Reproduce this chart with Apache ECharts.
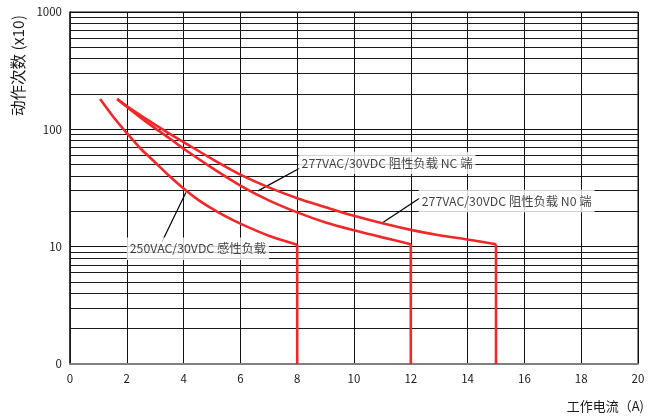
<!DOCTYPE html>
<html>
<head>
<meta charset="utf-8">
<script src="https://cdn.jsdelivr.net/npm/echarts@6/dist/echarts.min.js"></script>
<style>html,body{margin:0;padding:0;background:#fff}#c{width:649px;height:419px}</style>
</head>
<body>
<div id="c"></div>
<script>
// ---- data ----
const xTicks = [0, 2, 4, 6, 8, 10, 12, 14, 16, 18, 20];
const yMajor = [1, 10, 100, 1000];
const yMinor = [2, 3, 4, 5, 6, 7, 8, 9, 20, 30, 40, 50, 60, 70, 80, 90, 200, 300, 400, 500, 600, 700, 800, 900];

const curveInductive = [[1.06, 181], [1.5, 130], [2, 93], [2.5, 68], [3, 52.2], [3.5, 40], [4, 31.3], [4.5, 25.2],
  [5, 21.1], [5.5, 18], [6, 15.7], [7, 12.4], [8, 10.4]];
const dropInductive = [[8, 10.4], [8, 1]];
const curveNC = [[1.66, 181], [2, 155.6], [2.5, 125.2], [3, 101.9], [3.5, 83.9], [4, 68.3], [5, 47], [6, 33.2],
  [7, 24.8], [8, 19.6], [9, 16.1], [10, 13.8], [11, 12], [12, 10.5]];
const dropNC = [[12, 10.5], [12, 1]];
const curveNO = [[1.66, 181], [2, 158], [2.5, 130.7], [3, 109.3], [3.5, 92], [4, 77.9], [5, 55.9], [6, 41.1],
  [7, 32], [8, 25.9], [9, 21.7], [10, 18.3], [11, 15.8], [12, 13.9], [13, 12.5], [14, 11.5], [15, 10.5]];
const dropNO = [[15, 10.5], [15, 1]];

const arrowInductive = [[3.24, 11], [4.08, 29]];
const arrowNC = [[8.1, 46.9], [6.62, 29.9]];
const arrowNO = [[12.32, 26], [10.99, 15.9]];

const labels = [
  [2.0, 9.6, '250VAC/30VDC 感性负载'],
  [8.05, 51.7, '277VAC/30VDC 阻性负载 NC 端'],
  [12.28, 24.5, '277VAC/30VDC 阻性负载 N0 端']
];

const RED = '#f0282a';
const FONT = '"Noto Sans CJK SC","Noto Sans",sans-serif';

function curve(data, smooth) {
  return { type: 'line', data: data, smooth: smooth, showSymbol: false, symbol: 'none', z: 5,
    lineStyle: { color: RED, width: 2.6 }, silent: true };
}
function arrow(pts) {
  return [{ coord: pts[0] }, { coord: pts[1] }];
}

const chart = echarts.init(document.getElementById('c'), null, { renderer: 'canvas' });
chart.setOption({
  animation: false,
  backgroundColor: '#fff',
  textStyle: { fontFamily: FONT },
  grid: { left: 70, right: 11, top: 12, bottom: 55, show: true, borderColor: '#111', borderWidth: 1 },
  xAxis: {
    type: 'value', min: xTicks[0], max: xTicks[xTicks.length - 1], interval: 2,
    axisLine: { show: true, lineStyle: { color: '#808080', width: 2 } },
    axisTick: { show: false },
    axisLabel: { color: '#1a1a1a', fontSize: 11.5, margin: 9, fontFamily: FONT },
    splitLine: { show: true, lineStyle: { color: '#111', width: 1 } },
    name: '工作电流（A)', nameLocation: 'end', nameGap: 6,
    nameTextStyle: { color: '#1a1a1a', fontSize: 13, align: 'right', verticalAlign: 'top', padding: [36, 0, 0, 0], fontFamily: FONT }
  },
  yAxis: {
    type: 'log', logBase: 10, min: yMajor[0], max: yMajor[yMajor.length - 1],
    axisLine: { show: true, lineStyle: { color: '#222', width: 1.5 } },
    axisTick: { show: false },
    axisLabel: { color: '#1a1a1a', fontSize: 11.5, margin: 8, fontFamily: FONT,
      formatter: function (v) { return v === 1 ? '0' : String(v); } },
    splitLine: { show: true, lineStyle: { color: '#111', width: 1 } }
  },
  graphic: [{
    type: 'text', x: 26, y: 116, rotation: Math.PI / 2,
    style: { text: '动作次数 (x10)', fill: '#1a1a1a', font: '15.5px ' + FONT, textAlign: 'left', textVerticalAlign: 'bottom' }
  }],
  series: [
    { type: 'line', data: [], z: 1, silent: true,
      markLine: { silent: true, symbol: 'none', animation: false,
        lineStyle: { color: '#1a1a1a', width: 1, type: 'solid' }, label: { show: false },
        data: yMinor.map(function (v) { return { yAxis: v }; }) } },
    Object.assign(curve(curveInductive, 0.3), {
      markLine: { silent: true, symbol: ['none', 'arrow'], symbolSize: [0, 10], animation: false,
        lineStyle: { color: '#000', width: 1.2, type: 'solid' }, label: { show: false },
        data: [arrow(arrowInductive), arrow(arrowNC), arrow(arrowNO)] } }),
    curve(dropInductive, false),
    curve(curveNC, 0.3),
    curve(dropNC, false),
    curve(curveNO, 0.3),
    curve(dropNO, false),
    { type: 'scatter', data: labels, symbolSize: 0, z: 6, silent: true,
      label: { show: true, position: 'right', distance: 0,
        formatter: function (p) { return p.data[2]; },
        color: '#111', fontSize: 12.3, fontFamily: FONT,
        backgroundColor: '#fff', padding: [5, 3, 5, 3] } }
  ]
});
</script>
</body>
</html>
